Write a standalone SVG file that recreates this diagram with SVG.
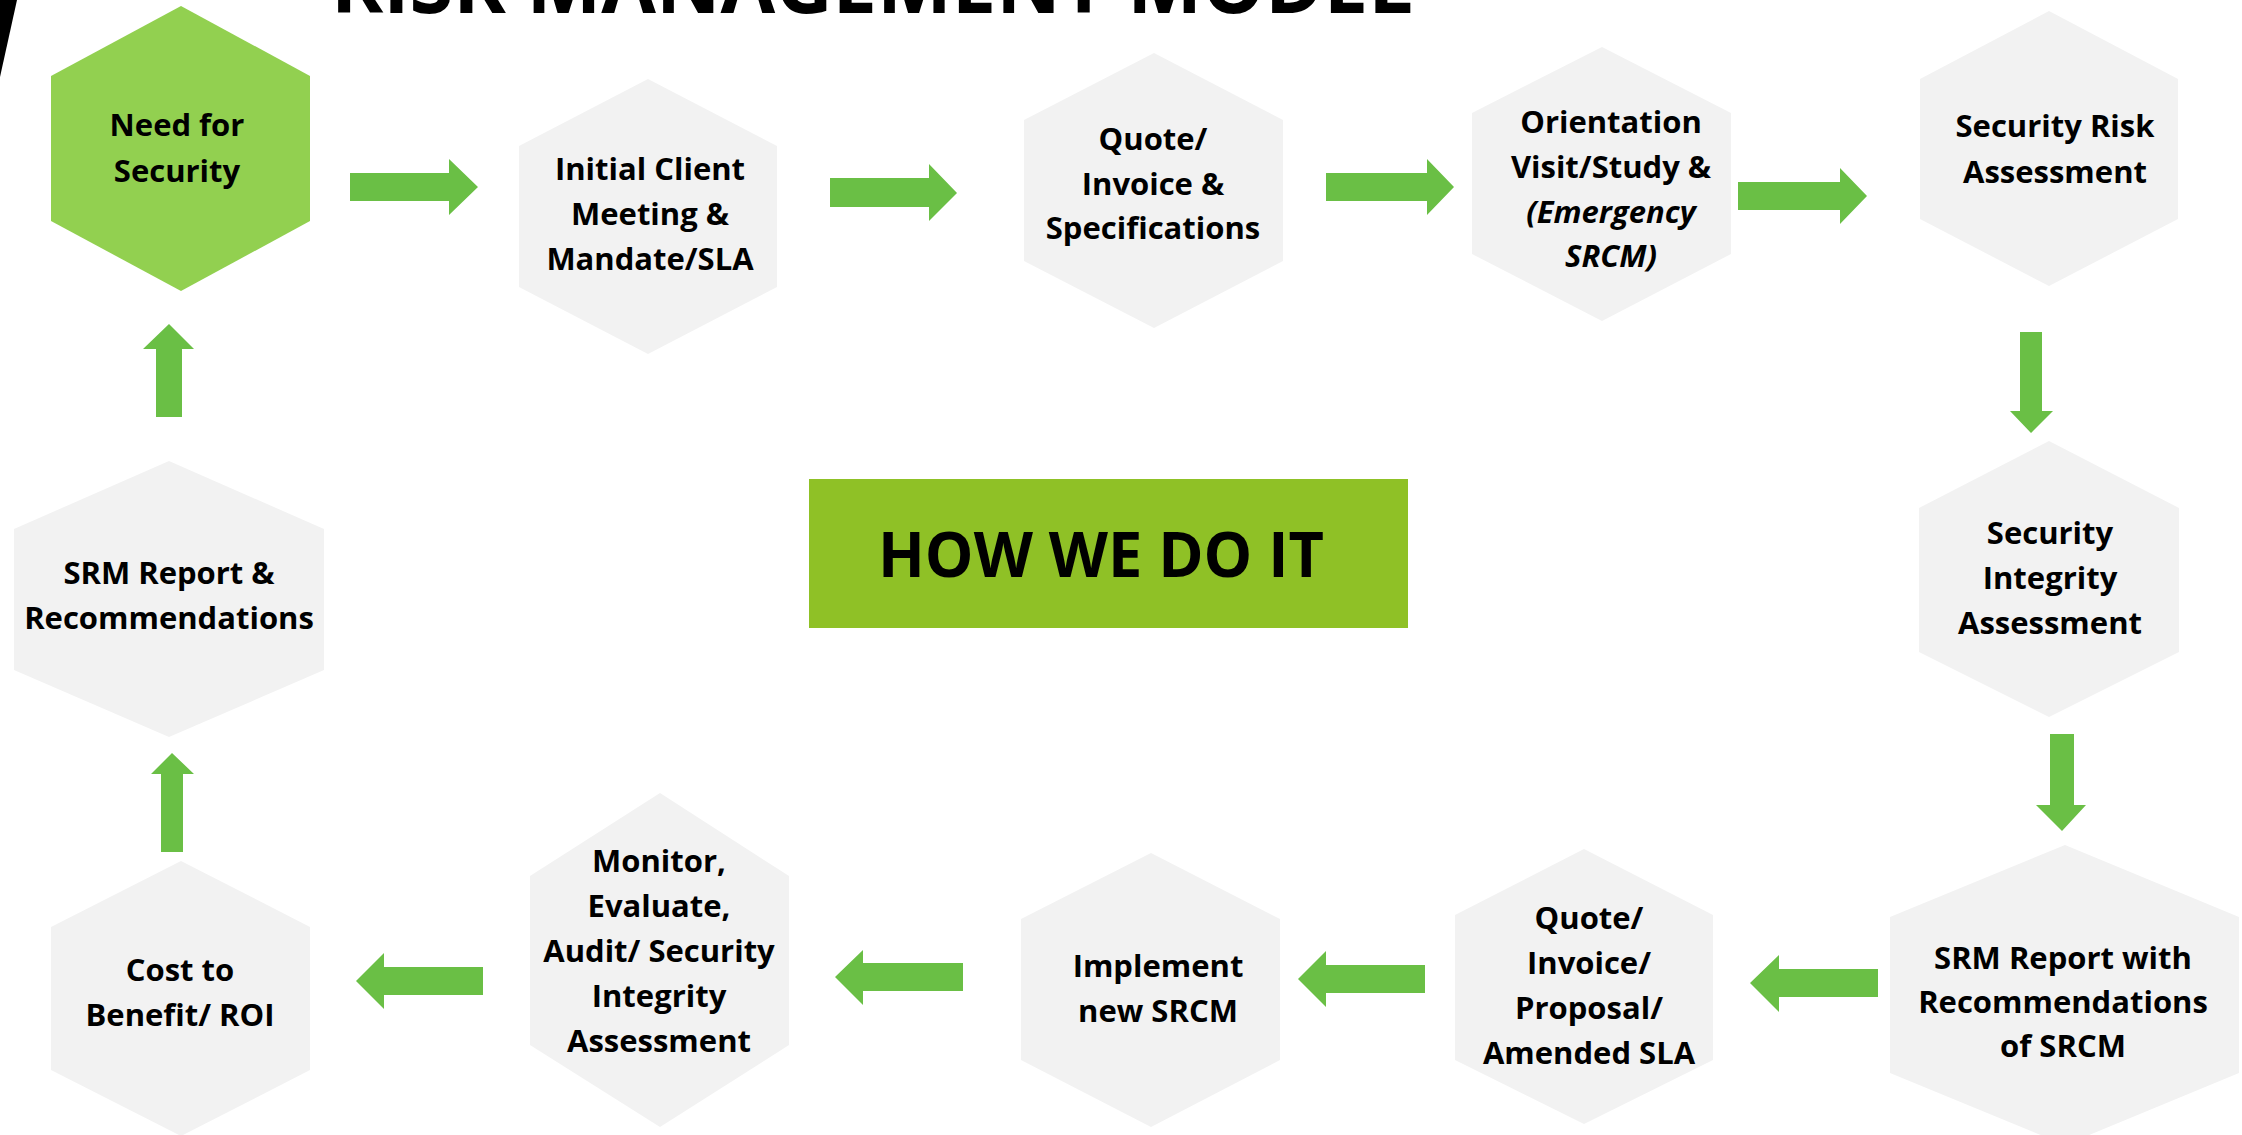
<svg xmlns="http://www.w3.org/2000/svg" width="2242" height="1135" viewBox="0 0 2242 1135">
<style>
.hex{fill:#f2f2f2}
.hexg{fill:#92d050}
.arr{fill:#6abf45}
.t{font-family:"Open Sans","Noto Sans","Liberation Sans",sans-serif;font-weight:700;font-size:31px;fill:#000;text-anchor:middle}
.it{font-style:italic}
</style>
<rect width="2242" height="1135" fill="#ffffff"/>
<polygon points="0,0 17,0 0,77" fill="#000"/>
<text x="331" y="13" font-family="'Open Sans','Noto Sans','Liberation Sans',sans-serif" font-weight="700" font-size="82" fill="#000" textLength="1082" lengthAdjust="spacingAndGlyphs">RISK MANAGEMENT MODEL</text>

<g id="connectors">
<polygon class="arr" points="350,173 449,173 449,159 478,187 449,215 449,201 350,201"/>
<polygon class="arr" points="830,178 929,178 929,164 957,193 929,221 929,207 830,207"/>
<polygon class="arr" points="1326,173 1427,173 1427,159 1454,187 1427,215 1427,201 1326,201"/>
<polygon class="arr" points="1738,182 1840,182 1840,168 1867,196 1840,224 1840,210 1738,210"/>
<polygon class="arr" points="2020,332 2042,332 2042,411 2053,411 2031,433 2010,411 2020,411"/>
<polygon class="arr" points="2050,734 2074,734 2074,805 2086,805 2062,831 2036,805 2050,805"/>
<polygon class="arr" points="1878,969 1779,969 1779,955 1750,983 1779,1012 1779,997 1878,997"/>
<polygon class="arr" points="1425,965 1326,965 1326,951 1298,979 1326,1007 1326,993 1425,993"/>
<polygon class="arr" points="963,963 863,963 863,950 835,977 863,1005 863,991 963,991"/>
<polygon class="arr" points="483,967 384,967 384,953 356,981 384,1009 384,995 483,995"/>
<polygon class="arr" points="161,852 161,774 151,774 172,753 194,774 183,774 183,852"/>
<polygon class="arr" points="156,417 156,349 143,349 169,324 194,349 182,349 182,417"/>
</g>

<g id="need-for-security">
<polygon class="hexg" points="181,6 310,76 310,221 181,291 51,221 51,76"/>
<text class="t"><tspan x="177" y="136">Need for</tspan><tspan x="177" y="182">Security</tspan></text>
</g>
<g id="initial-client-meeting">
<polygon class="hex" points="648,79 777,146 777,287 648,354 519,287 519,146"/>
<text class="t"><tspan x="650" y="180">Initial Client</tspan><tspan x="650" y="225">Meeting &amp;</tspan><tspan x="650" y="270">Mandate/SLA</tspan></text>
</g>
<g id="quote-invoice-specifications">
<polygon class="hex" points="1154,53 1283,120 1283,261 1154,328 1024,261 1024,120"/>
<text class="t"><tspan x="1153" y="150">Quote/</tspan><tspan x="1153" y="195">Invoice &amp;</tspan><tspan x="1153" y="239">Specifications</tspan></text>
</g>
<g id="orientation-visit">
<polygon class="hex" points="1602,47 1731,113 1731,254 1602,321 1472,254 1472,113"/>
<text class="t"><tspan x="1611" y="133">Orientation</tspan><tspan x="1611" y="178">Visit/Study &amp;</tspan><tspan class="it" x="1611" y="223">(Emergency</tspan><tspan class="it" x="1611" y="267">SRCM)</tspan></text>
</g>
<g id="security-risk-assessment">
<polygon class="hex" points="2049,11 2178,79 2178,219 2049,286 1920,219 1920,79"/>
<text class="t"><tspan x="2055" y="137">Security Risk</tspan><tspan x="2055" y="183">Assessment</tspan></text>
</g>
<g id="security-integrity-assessment">
<polygon class="hex" points="2049,441 2179,508 2179,652 2049,717 1919,652 1919,508"/>
<text class="t"><tspan x="2050" y="544">Security</tspan><tspan x="2050" y="589">Integrity</tspan><tspan x="2050" y="634">Assessment</tspan></text>
</g>
<g id="srm-report-with-recommendations">
<polygon class="hex" points="2065,845 2239,917 2239,1073 2065,1145 1890,1073 1890,917"/>
<text class="t"><tspan x="2063" y="969">SRM Report with</tspan><tspan x="2063" y="1013">Recommendations</tspan><tspan x="2063" y="1057">of SRCM</tspan></text>
</g>
<g id="quote-invoice-proposal">
<polygon class="hex" points="1584,849 1713,915 1713,1060 1584,1124 1455,1060 1455,915"/>
<text class="t"><tspan x="1589" y="929">Quote/</tspan><tspan x="1589" y="974">Invoice/</tspan><tspan x="1589" y="1019">Proposal/</tspan><tspan x="1589" y="1064">Amended SLA</tspan></text>
</g>
<g id="implement-new-srcm">
<polygon class="hex" points="1151,853 1280,919 1280,1060 1151,1127 1021,1060 1021,919"/>
<text class="t"><tspan x="1158" y="977">Implement</tspan><tspan x="1158" y="1022">new SRCM</tspan></text>
</g>
<g id="monitor-evaluate-audit">
<polygon class="hex" points="660,793 789,876 789,1045 660,1127 530,1045 530,876"/>
<text class="t"><tspan x="659" y="872">Monitor,</tspan><tspan x="659" y="917">Evaluate,</tspan><tspan x="659" y="962">Audit/ Security</tspan><tspan x="659" y="1007">Integrity</tspan><tspan x="659" y="1052">Assessment</tspan></text>
</g>
<g id="cost-to-benefit">
<polygon class="hex" points="181,861 310,927 310,1070 181,1136 51,1070 51,927"/>
<text class="t"><tspan x="180" y="981">Cost to</tspan><tspan x="180" y="1026">Benefit/ ROI</tspan></text>
</g>
<g id="srm-report-recommendations">
<polygon class="hex" points="169,461 324,529 324,670 169,737 14,670 14,529"/>
<text class="t"><tspan x="169" y="584">SRM Report &amp;</tspan><tspan x="169" y="629">Recommendations</tspan></text>
</g>
<g id="how-we-do-it">
<rect x="809" y="479" width="599" height="149" fill="#8fc126"/>
<text x="1101" y="577" font-family="'Open Sans','Noto Sans','Liberation Sans',sans-serif" font-weight="700" font-size="62" fill="#000" text-anchor="middle" textLength="446" lengthAdjust="spacingAndGlyphs">HOW WE DO IT</text>
</g>
</svg>
